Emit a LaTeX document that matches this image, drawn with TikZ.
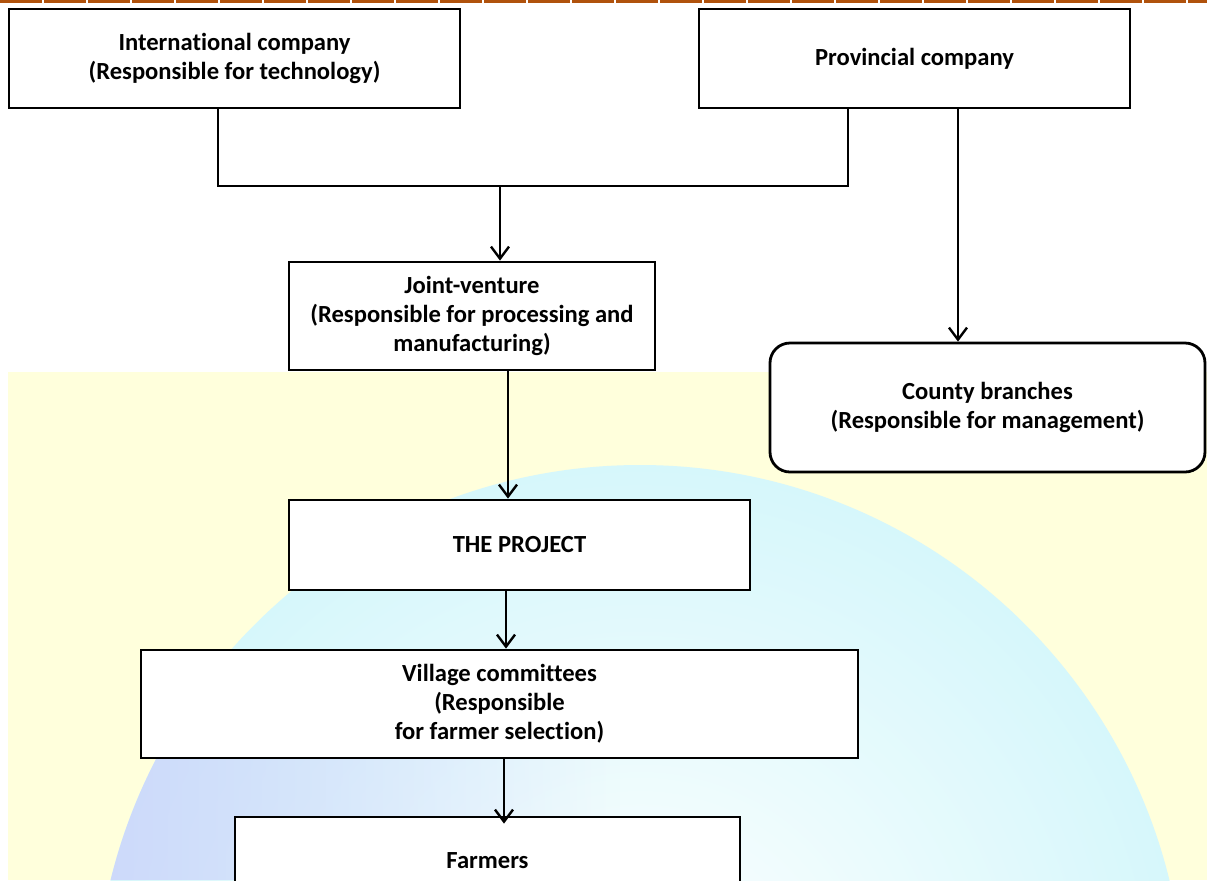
\documentclass[tikz,border=0pt]{standalone}
\usepackage{xcolor}
\usepackage{fontspec}
\setmainfont{Carlito}[Ligatures=NoCommon]
\usetikzlibrary{arrows.meta, fadings}
\definecolor{topline}{RGB}{176, 82, 12}
\definecolor{paleyellow}{RGB}{255, 255, 220}
\definecolor{globecyan}{RGB}{214, 247, 251}
\definecolor{globeblue}{RGB}{204, 213, 250}

\begin{document}
\begin{tikzpicture}[x=0.5pt, y=-0.5pt,
    every node/.style={font=\bfseries\fontsize{12.3}{14.5}\selectfont},
    box/.style={draw=black, fill=white, line width=1.4pt, align=center,
                inner sep=2pt},
    link/.style={line width=1.2pt},
    arr/.style={link, -{Straight Barb[length=6pt, width=9pt, line width=1.2pt]}}]
        \useasboundingbox (0,0) rectangle (1207,880);
        \clip (0,0) rectangle (1207,880);
        % background
        \fill[white] (0,0) rectangle (1207,880);
        \fill[paleyellow] (8,372) rectangle (1207,880);
        \shade[inner color=white, outer color=globecyan] (640,1010) circle (545);
        \begin{scope}
          \clip (640,1010) circle (545);
          \fill[globeblue, path fading=east, opacity=0.9]
            (90,700) rectangle (620,880);
        \end{scope}
        \draw[topline, line width=1.5pt, dash pattern=on 21pt off 1pt]
          (0,1) -- (1207,1);
        % boxes
        \node[box, minimum width=225.5pt, minimum height=49.5pt]
              (intl) at (234.5,58.5) {International company\\(Responsible for technology)};
        \node[box, minimum width=215.5pt, minimum height=49.5pt]
              (prov) at (914.5,58.5) {Provincial company};
        \node[box, minimum width=183pt, minimum height=54pt]
              (jv) at (472,316) {Joint-venture\\(Responsible for processing and\\manufacturing)};
        \node[box, rounded corners=10pt, minimum width=217.5pt, minimum height=64.5pt]
              (county) at (987.5,407.5) {County branches\\(Responsible for management)};
        \node[box, minimum width=230.5pt, minimum height=45pt]
              (project) at (519.5,545) {THE PROJECT};
        \node[box, minimum width=358.5pt, minimum height=54pt]
              (village) at (499.5,704) {Village committees\\(Responsible\\for farmer selection)};
        \node[box, minimum width=252.5pt, minimum height=44pt]
              (farmers) at (487.5,861) {Farmers};
        % connectors
        \coordinate (joinL) at (218,186);
        \coordinate (joinR) at (848,186);
        \coordinate (joinM) at (500,186);
        \coordinate (provdrop) at (958,112);
        \draw[link] (intl.south -| joinL) -- (joinL) -- (joinR) -- (prov.south -| joinR);
        \draw[arr] (joinM) -- (jv.north -| joinM);
        \draw[arr] (prov.south -| provdrop) -- (county.north -| provdrop);
        \coordinate (jvdrop) at (508,372);
        \draw[arr] (jv.south -| jvdrop) -- (project.north -| jvdrop);
        \coordinate (projdrop) at (506,593);
        \draw[arr] (project.south -| projdrop) -- (village.north -| projdrop);
        \coordinate (vildrop) at (504,760);
        \draw[arr] (village.south -| vildrop) -- ([yshift=-4pt]farmers.north -| vildrop);
      \end{tikzpicture}
\end{document}
